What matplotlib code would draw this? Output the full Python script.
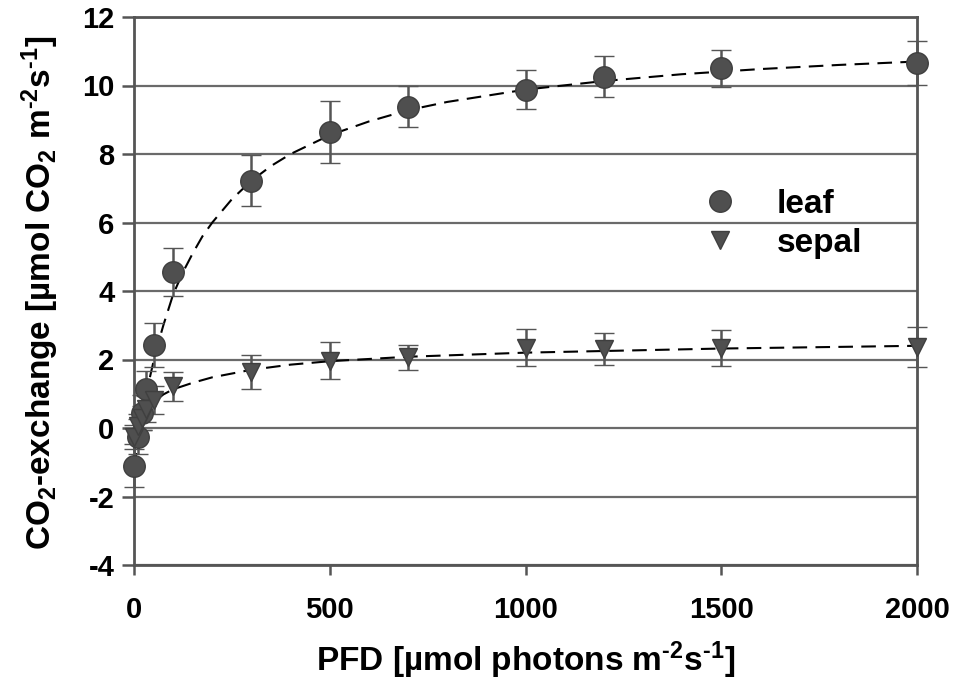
import matplotlib
matplotlib.use("Agg")
import matplotlib.pyplot as plt
from matplotlib.lines import Line2D

# ---- data ----
pfd = [0, 10, 20, 30, 50, 100, 300, 500, 700, 1000, 1200, 1500, 2000]
leaf = [-1.1, -0.25, 0.45, 1.15, 2.42, 4.55, 7.22, 8.65, 9.38, 9.88, 10.25, 10.5, 10.66]
leaf_err = [0.62, 0.5, 0.5, 0.5, 0.64, 0.7, 0.75, 0.9, 0.6, 0.58, 0.6, 0.55, 0.65]
sepal = [-0.25, 0.05, 0.3, 0.55, 0.82, 1.22, 1.63, 1.97, 2.06, 2.35, 2.31, 2.33, 2.37]
sepal_err = [0.35, 0.35, 0.35, 0.38, 0.4, 0.42, 0.5, 0.55, 0.37, 0.53, 0.47, 0.52, 0.58]

# fitted curves
leaf_fit_x = [0, 10, 20, 30, 40, 50, 60, 75, 100, 125, 150, 175, 200, 250, 300, 350,
              400, 500, 600, 700, 800, 1000, 1200, 1400, 1600, 1800, 2000]
leaf_fit_y = [-1.15, -0.45, 0.25, 0.88, 1.45, 1.95, 2.4, 3.0, 3.9, 4.55, 5.1, 5.6, 6.0,
              6.68, 7.22, 7.65, 8.0, 8.55, 8.95, 9.28, 9.52, 9.88, 10.13, 10.33, 10.48,
              10.6, 10.7]
sepal_fit_x = [0, 10, 20, 30, 50, 75, 100, 150, 200, 300, 400, 500, 700, 1000, 1500, 2000]
sepal_fit_y = [-0.3, 0.0, 0.25, 0.45, 0.75, 0.98, 1.13, 1.32, 1.48, 1.7, 1.85, 1.95, 2.08,
               2.2, 2.32, 2.4]

xticks = [0, 500, 1000, 1500, 2000]
yticks = [-4, -2, 0, 2, 4, 6, 8, 10, 12]

plt.rcParams['font.family'] = ['Liberation Sans', 'DejaVu Sans']
plt.rcParams['font.weight'] = 'bold'
plt.rcParams['mathtext.fontset'] = 'custom'
plt.rcParams['mathtext.rm'] = 'Liberation Sans:bold'
plt.rcParams['mathtext.it'] = 'Liberation Sans:bold'
plt.rcParams['mathtext.bf'] = 'Liberation Sans:bold'
plt.rcParams['mathtext.default'] = 'rm'

W, H = 955, 686
fig = plt.figure(figsize=(W / 100, H / 100), dpi=100)
L, R, T, B = 134, 917, 17, 565
ax = fig.add_axes([L / W, 1 - B / H, (R - L) / W, (B - T) / H])

gray = '#555555'
mk = '#4f4f4f'

ax.set_xlim(0, 2000)
ax.set_ylim(-4, 12)
ax.set_xticks(xticks)
ax.set_yticks(yticks)
ax.set_yticklabels([str(v) for v in yticks])
ax.yaxis.grid(True, color='#6a6a6a', lw=1.6, zorder=0)
ax.set_axisbelow(True)
for s in ax.spines.values():
    s.set_color(gray)
    s.set_linewidth(2)
ax.tick_params(axis='both', direction='out', color=gray, width=1.8, labelsize=21)
ax.tick_params(axis='y', length=9, pad=5)
ax.tick_params(axis='x', length=7, pad=15)
for lab in ax.get_xticklabels() + ax.get_yticklabels():
    lab.set_fontweight('bold')

# fits
ax.plot(leaf_fit_x, leaf_fit_y, color='black', lw=1.5, dashes=(7, 4), zorder=2)
ax.plot(sepal_fit_x, sepal_fit_y, color='black', lw=1.5, dashes=(7, 4), zorder=2)

# data
for ys, es, m, s in [(leaf, leaf_err, 'o', 15.5), (sepal, sepal_err, 'v', 13.5)]:
    lines = ax.errorbar(pfd, ys, yerr=es, fmt=m, ms=s, mfc=mk, mec='#3f3f3f', mew=1,
                        ecolor=gray, elinewidth=1.8, capsize=7, capthick=2, zorder=3)
    lines[0].set_clip_on(False)
    for c in lines[1]:
        c.set_clip_on(False)
    for c in lines[2]:
        c.set_clip_on(False)

handles = [Line2D([], [], ls='none', marker='o', ms=15.5, mfc=mk, mec='#3f3f3f'),
           Line2D([], [], ls='none', marker='v', ms=13.5, mfc=mk, mec='#3f3f3f')]
ax.legend(handles, ['leaf', 'sepal'], loc='upper left',
          bbox_to_anchor=((687 - L) / (R - L), 1 - (172 - T) / (B - T)),
          frameon=False, prop={'size': 24, 'weight': 'bold'},
          handletextpad=1.2, labelspacing=0.25, borderpad=0, handlelength=1.0)

fig.text((L + R) / 2 / W, 1 - 660 / H, r'PFD [µmol photons m$^{\text{-2}}$s$^{\text{-1}}$]',
         ha='center', va='center', fontsize=24, fontweight='bold')
fig.text(40 / W, 1 - 293 / H,
         r'CO$_{2}$-exchange [µmol CO$_{2}$ m$^{\text{-2}}$s$^{\text{-1}}$]',
         ha='center', va='center', rotation=90, fontsize=24, fontweight='bold')

fig.savefig('out.png', dpi=100)
